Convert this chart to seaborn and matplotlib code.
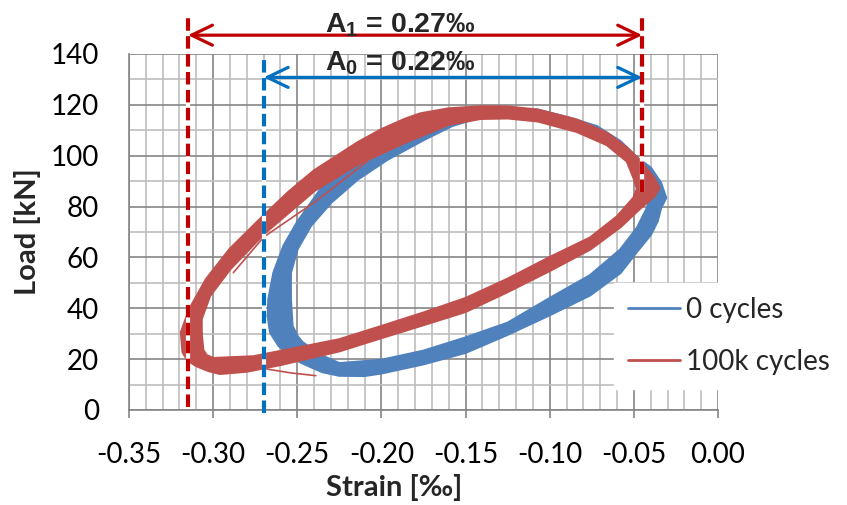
import numpy as np
import pandas as pd
import matplotlib
matplotlib.use("Agg")
import matplotlib.pyplot as plt
from matplotlib.ticker import MultipleLocator
from matplotlib.lines import Line2D
import seaborn as sns

# ---------------- data ----------------
series_names = ["0 cycles", "100k cycles"]

# 0 cycles: outer and inner edge of the band of cycles (strain in per-mille, load in kN)
blue_outer_strain = [-0.2674, -0.266, -0.261, -0.254, -0.248, -0.242, -0.235, -0.225, -0.21, -0.20,
                     -0.175, -0.15, -0.125, -0.10, -0.076, -0.058, -0.048, -0.040, -0.036, -0.034,
                     -0.031, -0.034, -0.040, -0.048, -0.058, -0.072, -0.088, -0.107, -0.14, -0.16,
                     -0.176, -0.202, -0.22, -0.236, -0.25, -0.258, -0.264, -0.267, -0.2674]
blue_outer_load = [37.0, 30.5, 25.3, 21.0, 18.8, 17.0, 15.0, 13.6, 13.5, 14.5,
                   18.1, 22.6, 29.7, 37.4, 45.2, 54.0, 62.5, 69.0, 74.3, 79.5,
                   83.4, 89.3, 95.2, 99.1, 105.6, 111.5, 114.8, 118.0, 119.0, 116.5,
                   112.0, 104.0, 96.0, 86.9, 73.8, 64.6, 54.0, 43.6, 37.0]
blue_inner_strain = [-0.254, -0.253, -0.250, -0.247, -0.237, -0.225, -0.20, -0.175, -0.15, -0.125,
                     -0.10, -0.076, -0.058, -0.048, -0.042, -0.040, -0.046, -0.055, -0.068, -0.085,
                     -0.107, -0.14, -0.158, -0.174, -0.196, -0.214, -0.23, -0.242, -0.25, -0.254,
                     -0.254]
blue_inner_load = [43.6, 33.0, 29.0, 26.6, 21.8, 18.3, 19.6, 23.2, 28.4, 34.2,
                   43.9, 52.9, 63.0, 71.6, 79.5, 85.0, 92.0, 99.0, 105.5, 110.5,
                   114.5, 115.5, 111.8, 106.6, 98.7, 90.8, 81.6, 72.5, 63.3, 54.0,
                   43.6]

# 100k cycles
red_outer_strain = [-0.319, -0.318, -0.315, -0.310, -0.303, -0.296, -0.28, -0.26, -0.225, -0.20,
                    -0.175, -0.15, -0.125, -0.10, -0.076, -0.058, -0.046, -0.038, -0.035, -0.038,
                    -0.046, -0.054, -0.066, -0.084, -0.107, -0.125, -0.14, -0.16, -0.177, -0.186,
                    -0.20, -0.214, -0.240, -0.255, -0.270, -0.290, -0.304, -0.314, -0.319]
red_outer_load = [30.5, 22.7, 19.5, 17.4, 15.5, 14.3, 15.2, 17.8, 23.2, 28.4,
                  33.5, 38.7, 46.5, 54.8, 63.2, 72.0, 79.5, 84.0, 87.3, 91.2,
                  97.8, 103.0, 108.9, 114.1, 118.0, 119.2, 119.3, 118.5, 116.5, 114.4,
                  110.3, 105.2, 94.1, 85.8, 76.4, 63.3, 51.5, 39.7, 30.5]
red_inner_strain = [-0.307, -0.306, -0.304, -0.300, -0.276, -0.25, -0.225, -0.20, -0.175, -0.15,
                    -0.125, -0.10, -0.076, -0.060, -0.050, -0.048, -0.050, -0.054, -0.066, -0.084,
                    -0.107, -0.125, -0.141, -0.16, -0.186, -0.214, -0.24, -0.27, -0.29, -0.302,
                    -0.307, -0.307]
red_inner_load = [30.0, 23.5, 21.5, 20.3, 21.0, 24.4, 27.7, 32.9, 38.2, 43.9,
                  51.5, 60.0, 67.7, 76.0, 83.5, 87.0, 91.2, 97.8, 104.3, 109.5,
                  113.6, 114.8, 114.6, 112.3, 105.2, 96.7, 86.2, 69.2, 55.4, 44.9,
                  35.8, 30.0]
# single stray cycles of the 100k series
red_stray1_strain = [-0.288, -0.27, -0.24, -0.208]
red_stray1_load = [54.0, 68.0, 81.6, 98.0]
red_stray2_strain = [-0.268, -0.254, -0.239]
red_stray2_load = [16.1, 14.6, 13.5]

# amplitude markers (strain values) and their labels
A1_left, A0_left, A_right = -0.315, -0.27, -0.045
A1_label = r"$\mathbf{A_1}$ = 0.27‰"
A0_label = r"$\mathbf{A_0}$ = 0.22‰"

# axes
x_ticks = [-0.35, -0.30, -0.25, -0.20, -0.15, -0.10, -0.05, 0.00]
x_tick_labels = ["-0.35", "-0.30", "-0.25", "-0.20", "-0.15", "-0.10", "-0.05", "0.00"]
y_ticks = [0, 20, 40, 60, 80, 100, 120, 140]
y_tick_labels = ["0", "20", "40", "60", "80", "100", "120", "140"]

# ---------------- styling ----------------
sns.set_style("white")
plt.rcParams['font.family'] = ['Lato', 'DejaVu Sans']
plt.rcParams['mathtext.fontset'] = 'custom'
plt.rcParams['mathtext.bf'] = 'Liberation Sans:bold'
plt.rcParams['mathtext.rm'] = 'Liberation Sans'
plt.rcParams['mathtext.it'] = 'Liberation Sans:italic'

BLUE = "#4F81BD"
RED = "#C0504D"
DRED = "#C00000"
DBLUE = "#0070C0"
MAJ = "#858585"
MIN = "#BDBDBD"

fig = plt.figure(figsize=(8.47, 5.05), dpi=100)
ax = fig.add_axes([129 / 847, 1 - 410 / 505, 589 / 847, 356 / 505])


def loop_frame(name, trace, xs, ys):
    return pd.DataFrame({"Strain": xs, "Load": ys, "series": name, "trace": trace})


blue_df = pd.concat([loop_frame(series_names[0], "outer", blue_outer_strain, blue_outer_load),
                     loop_frame(series_names[0], "inner", blue_inner_strain, blue_inner_load)])
red_df = pd.concat([loop_frame(series_names[1], "outer", red_outer_strain, red_outer_load),
                    loop_frame(series_names[1], "inner", red_inner_strain, red_inner_load),
                    loop_frame(series_names[1], "stray1", red_stray1_strain, red_stray1_load),
                    loop_frame(series_names[1], "stray2", red_stray2_strain, red_stray2_load)])

# band fills (annulus between outer and inner edge)
ax.fill(np.r_[blue_outer_strain, blue_inner_strain[::-1]],
        np.r_[blue_outer_load, blue_inner_load[::-1]], color=BLUE, lw=0, zorder=2)
sns.lineplot(data=blue_df, x="Strain", y="Load", units="trace",
             estimator=None, sort=False, color=BLUE, lw=2, ax=ax, legend=False, zorder=2.1)
ax.fill(np.r_[red_outer_strain, red_inner_strain[::-1]],
        np.r_[red_outer_load, red_inner_load[::-1]], color=RED, lw=0, zorder=2.2)
sns.lineplot(data=red_df[red_df.trace.isin(["outer", "inner"])], x="Strain", y="Load", units="trace",
             estimator=None, sort=False, color=RED, lw=2, ax=ax, legend=False, zorder=2.3)
sns.lineplot(data=red_df[red_df.trace.isin(["stray1", "stray2"])], x="Strain", y="Load", units="trace",
             estimator=None, sort=False, color=RED, lw=1.2, ax=ax, legend=False, zorder=2.3)

ax.set_xlim(-0.35, 0.0)
ax.set_ylim(0, 140)
ax.set_xticks(x_ticks)
ax.set_xticklabels(x_tick_labels)
ax.set_yticks(y_ticks)
ax.set_yticklabels(y_tick_labels)
ax.xaxis.set_minor_locator(MultipleLocator(0.01))
ax.yaxis.set_minor_locator(MultipleLocator(10))
ax.set_axisbelow(True)
ax.grid(which="minor", color=MIN, lw=1.2, zorder=0)
ax.grid(which="major", color=MAJ, lw=1.2, zorder=0.5)
ax.tick_params(axis="x", which="major", bottom=True, direction="out", length=6, width=1.2,
               color=MAJ, pad=17, labelsize=20, labelcolor="black")
ax.tick_params(axis="x", which="minor", bottom=False, length=0)
ax.tick_params(axis="y", which="both", left=False, length=0, pad=21.6, labelsize=20, labelcolor="black")
for s in ["top", "right"]:
    ax.spines[s].set_visible(False)
for s in ["left", "bottom"]:
    ax.spines[s].set_color(MAJ)
    ax.spines[s].set_linewidth(1.2)

ax.set_xlabel("Strain [‰]", fontsize=21, fontweight="bold")
ax.xaxis.set_label_coords((394 - 129) / 589, (410 - 474) / 356)
ax.set_ylabel("Load [kN]", fontsize=21, fontweight="bold")
ax.yaxis.set_label_coords((41 - 129) / 589, 0.5)

# amplitude markers
def vdash(x, y0, y1, color, z):
    ax.plot([x, x], [y0, y1], color="white", lw=3, clip_on=False, zorder=z, solid_capstyle="butt")
    ax.plot([x, x], [y0, y1], color=color, lw=3, dashes=(3, 1.3), clip_on=False, zorder=z + 0.1)

vdash(A0_left, -1.2, 137.6, DBLUE, 5)
vdash(A_right, 85.7, 137.6, DBLUE, 5)
vdash(A1_left, 1.2, 155.3, DRED, 5.5)
vdash(A_right, 85.7, 155.3, DRED, 5.5)

ax.annotate("", xy=(A_right, 147.4), xytext=(A1_left, 147.4),
            arrowprops=dict(arrowstyle="<->,head_length=0.75,head_width=0.36", color=DRED, lw=2.3,
                            shrinkA=0, shrinkB=0, mutation_scale=20), annotation_clip=False, zorder=6)
ax.annotate("", xy=(A_right, 130.8), xytext=(A0_left, 130.8),
            arrowprops=dict(arrowstyle="<->,head_length=0.75,head_width=0.36", color=DBLUE, lw=2.3,
                            shrinkA=0, shrinkB=0, mutation_scale=20), annotation_clip=False, zorder=6)
ax.text(-0.2335, 148.6, A1_label, fontsize=20.5, fontweight="bold",
        family=["Liberation Sans", "DejaVu Sans"], ha="left", va="baseline", clip_on=False, zorder=7)
ax.text(-0.2335, 133.4, A0_label, fontsize=20.5, fontweight="bold",
        family=["Liberation Sans", "DejaVu Sans"], ha="left", va="baseline", clip_on=False, zorder=7)

handles = [Line2D([], [], color=BLUE, lw=2), Line2D([], [], color=RED, lw=2)]
leg = ax.legend(handles, series_names, loc="upper left", bbox_to_anchor=(614 / 847, 1 - 283 / 505),
                bbox_transform=fig.transFigure, frameon=True, fancybox=False, edgecolor="white",
                facecolor="white", framealpha=1, borderpad=0.5, labelspacing=0.93, handlelength=1.87,
                handletextpad=0.22, fontsize=20, borderaxespad=0)
leg.set_zorder(10)

fig.savefig("out.png", dpi=100)
